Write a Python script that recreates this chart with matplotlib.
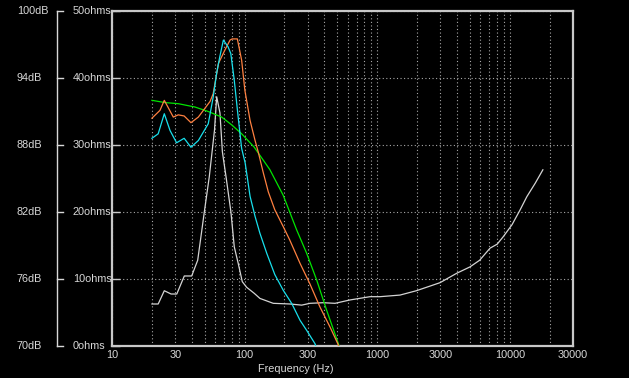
import matplotlib
matplotlib.use("Agg")
import matplotlib.pyplot as plt
from matplotlib.ticker import LogLocator, NullFormatter, FixedLocator

plt.rcParams['font.family'] = ['Liberation Sans', 'DejaVu Sans']

# ── DATA ───────────────────────────────────────────
# impedance curve (ohms)
imp_freq = [20, 22.3, 24.8, 27.9, 30.8, 35.1, 39.9, 44.3, 49.7, 54.2, 57.1, 59.3,
            61.6, 65.2, 68, 72.4, 78.9, 83.6, 89.6, 96.1, 103.7, 118.3, 130.6,
            164.5, 220, 269.6, 311, 392, 481, 623, 883, 1050, 1486, 1976, 2978,
            3975, 5005, 5930, 7100, 8040, 8920, 10400, 11960, 13470, 15570, 17780]
imp_ohms = [6.27, 6.27, 8.25, 7.76, 7.76, 10.45, 10.45, 12.8, 20.0, 25.3, 29.3, 32.2,
            37.2, 34.8, 29.0, 25.3, 20.0, 14.8, 12.3, 9.6, 8.76, 7.86, 7.1,
            6.37, 6.27, 6.1, 6.37, 6.46, 6.37, 6.87, 7.36, 7.36, 7.6, 8.25, 9.45,
            10.85, 11.8, 12.8, 14.6, 15.2, 16.3, 18.1, 20.3, 22.3, 24.3, 26.3]

# SPL curves (dB)
orange_freq = [20, 23.0, 24.8, 29, 31.6, 35, 39.4, 44.8, 54.9, 58, 63.5, 71, 77.7,
               80.6, 88.2, 95, 100.5, 110, 120, 126.6, 138.5, 151, 169, 195.5, 219,
               262, 310, 370, 441, 505, 525]
orange_db = [90.4, 91.1, 92.0, 90.5, 90.7, 90.6, 90.0, 90.5, 91.9, 92.6, 95.3, 96.5, 97.4,
             97.5, 97.5, 95.6, 92.9, 90.2, 88.4, 87.4, 85.5, 83.8, 82.2, 80.7, 79.5,
             77.4, 75.6, 73.5, 71.7, 70.2, 69.5]

cyan_freq = [20, 22.3, 24.8, 27.4, 30.7, 35.0, 39.4, 44.8, 53.2, 58, 61.5, 65, 69.2,
             75, 78.7, 83.6, 88.9, 95, 101, 110, 120, 130.5, 147, 169, 195.5, 227,
             262, 294, 340, 352]
cyan_db = [88.6, 89.0, 90.8, 89.3, 88.2, 88.6, 87.8, 88.4, 89.9, 92.3, 94.4, 95.9, 97.4,
           96.8, 96.2, 93.8, 90.8, 87.7, 86.4, 83.4, 81.6, 80.1, 78.3, 76.4, 75.0, 73.8,
           72.3, 71.4, 70.2, 69.6]

green_freq = [20, 25.1, 31.6, 42.3, 53.2, 67.2, 80, 95.1, 118.3, 155, 195.5, 247,
              294, 350, 416, 510, 525]
green_db = [92.0, 91.8, 91.7, 91.4, 91.0, 90.5, 89.8, 89.0, 87.8, 85.8, 83.5, 80.4,
            78.3, 75.9, 73.2, 70.2, 69.5]

x_ticks = [10, 30, 100, 300, 1000, 3000, 10000, 30000]
x_labels = ["10", "30", "100", "300", "1000", "3000", "10000", "30000"]
ohm_levels = [0, 10, 20, 30, 40, 50]
ohm_labels = ["0ohms", "10ohms", "20ohms", "30ohms", "40ohms", "50ohms"]
db_labels = ["70dB", "76dB", "82dB", "88dB", "94dB", "100dB"]

# ── FIGURE ─────────────────────────────────────────
W, H = 629, 378
txt = "#d8d8d8"
frame = "#c8c8c8"
fs = 7.8

fig = plt.figure(figsize=(W / 100, H / 100), dpi=100, facecolor="black")
L, R, T, B = 112, 573, 11, 346
ax = fig.add_axes([L / W, 1 - B / H, (R - L) / W, (B - T) / H], facecolor="black")
ax.set_xscale("log")
ax.set_xlim(10, 30000)
ax.set_ylim(0, 50)

for s in ax.spines.values():
    s.set_color(frame)
    s.set_linewidth(1.6)

ax.xaxis.set_major_locator(FixedLocator(x_ticks))
ax.set_xticklabels(x_labels, color=txt, fontsize=fs)
ax.xaxis.set_minor_locator(LogLocator(base=10, subs=range(2, 10)))
ax.xaxis.set_minor_formatter(NullFormatter())
ax.tick_params(axis="x", which="both", length=0, pad=3)
ax.set_yticks(ohm_levels)
ax.set_yticklabels([])
ax.tick_params(axis="y", direction="in", length=6, width=1, color=frame)
ax.grid(True, which="both", axis="both", color="#a8a8a8",
        linestyle=(0, (1, 2.2)), linewidth=0.8)

ax.plot(imp_freq, imp_ohms, color="#d4d4d4", lw=0.9, zorder=3)

ax2 = ax.twinx()
ax2.set_ylim(70, 100)
ax2.set_yticks([])
for s in ax2.spines.values():
    s.set_visible(False)
ax2.plot(green_freq, green_db, color="#00e600", lw=0.9)
ax2.plot(orange_freq, orange_db, color="#ff8040", lw=0.9)
ax2.plot(cyan_freq, cyan_db, color="#18e0ec", lw=0.9)

# left bracket + labels
yt = ax.get_yaxis_transform()
bx0, bx1 = (57 - L) / (R - L), (63 - L) / (R - L)
ax.plot([bx0, bx0], [0, 50], color=txt, lw=1, transform=yt, clip_on=False)
for lvl, ol, dl in zip(ohm_levels, ohm_labels, db_labels):
    ax.plot([bx0, bx1], [lvl, lvl], color=txt, lw=1, transform=yt, clip_on=False)
    ax.text((73 - L) / (R - L), lvl, ol, transform=yt, color=txt, fontsize=fs,
            ha="left", va="center")
    ax.text((17 - L) / (R - L), lvl, dl, transform=yt, color=txt, fontsize=fs,
            ha="left", va="center")

fig.text(258 / W, 1 - 369 / H, "Frequency (Hz)", color=txt, fontsize=fs,
         ha="left", va="center")

fig.savefig("out.png", dpi=100, facecolor="black")
